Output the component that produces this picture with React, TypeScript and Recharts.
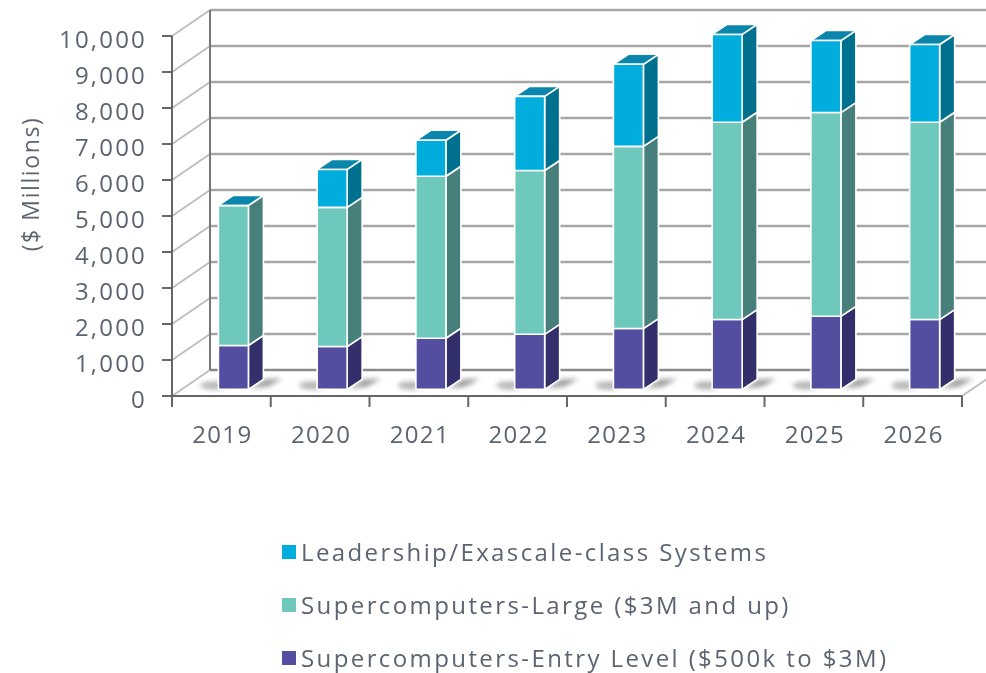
import { BarChart, Bar, XAxis, YAxis, CartesianGrid, Legend } from "recharts";

const years = ["2019", "2020", "2021", "2022", "2023", "2024", "2025", "2026"];
const entryLevel = [1220, 1190, 1420, 1530, 1690, 1940, 2030, 1940];
const large = [3890, 3865, 4500, 4550, 5060, 5480, 5660, 5480];
const leadership = [0, 1055, 1000, 2060, 2280, 2440, 2000, 2160];
const yTicks = [0, 1000, 2000, 3000, 4000, 5000, 6000, 7000, 8000, 9000, 10000];

const data = years.map((year, i) => ({
  year,
  entry: entryLevel[i],
  large: large[i],
  leadership: leadership[i],
}));

const FONT = "'Open Sans', sans-serif";
const TEXT = "#5b6470";

// depth of the fake 3D walls, and of the bars inside them
const WALL_DX = 38;
const WALL_DY = -26;
const BAR_SHIFT_X = 12.4;
const BAR_SHIFT_Y = -6.6;
const DEPTH_X = 15;
const DEPTH_Y = -10;
const BAND = 790 / years.length;

const face = (pts: number[][], fill: string) => (
  <polygon points={pts.map((p) => p.join(",")).join(" ")} fill={fill} stroke="#fff" strokeWidth={1.6} strokeLinejoin="round" />
);

function makeBox(front: string, side: string, top?: string, floor?: boolean) {
  return function Box(props: any) {
    const x = props.x + BAR_SHIFT_X;
    const y = props.y + BAR_SHIFT_Y;
    const w = props.width;
    const h = props.height;
    return (
      <g>
        {floor && (
          <g>
            <ellipse cx={x - 5} cy={y + h - 4} rx={13} ry={4} fill="#b4b4b4" filter="url(#floorShadow)" />
            <polygon
              points={`${x + w + 2},${y + h - 1} ${x + w + 16},${y + h - 10} ${x + w + 34},${y + h - 11} ${x + w + 20},${y + h - 3}`}
              fill="#9c9c9c"
              filter="url(#floorShadow)"
            />
          </g>
        )}
        {face([[x + w, y], [x + w + DEPTH_X, y + DEPTH_Y], [x + w + DEPTH_X, y + h + DEPTH_Y], [x + w, y + h]], side)}
        {top && face([[x, y], [x + DEPTH_X, y + DEPTH_Y], [x + w + DEPTH_X, y + DEPTH_Y], [x + w, y]], top)}
        {face([[x, y], [x + w, y], [x + w, y + h], [x, y + h]], front)}
      </g>
    );
  };
}

function WallLine(props: any) {
  const { x1, y1, x2, y2 } = props;
  const isFloor = y1 > 390;
  return (
    <g>
      <line x1={x1} y1={y1} x2={x1 + WALL_DX} y2={y1 + WALL_DY} stroke="#bdbdbd" strokeWidth={1.8} />
      <line x1={x1 + WALL_DX} y1={y1 + WALL_DY} x2={x2 + WALL_DX} y2={y2 + WALL_DY} stroke={isFloor ? "#8a8a8a" : "#a6a6a6"} strokeWidth={2.4} />
      {!isFloor && <line x1={x1 + WALL_DX} y1={y1 + WALL_DY} x2={x1 + WALL_DX} y2={y1 + WALL_DY + 36} stroke="#777" strokeWidth={2} />}
      {isFloor && <line x1={x2} y1={y2} x2={x2 + WALL_DX} y2={y2 + WALL_DY} stroke="#bdbdbd" strokeWidth={1.8} />}
    </g>
  );
}

function XTick(props: any) {
  const { x, y, index, payload } = props;
  const left = x - BAND / 2;
  const last = index === years.length - 1;
  return (
    <g>
      <line x1={left} y1={y} x2={left} y2={y + 11} stroke="#666" strokeWidth={2} />
      {last && <line x1={left + BAND} y1={y} x2={left + BAND} y2={y + 11} stroke="#666" strokeWidth={2} />}
      <text x={x + 1} y={y + 47} textAnchor="middle" fontFamily={FONT} fontSize={24} letterSpacing={1.4} fill={TEXT}>
        {payload.value}
      </text>
    </g>
  );
}

function YTick(props: any) {
  const { x, y, payload } = props;
  return (
    <g>
      <line x1={x} y1={y} x2={x - 10} y2={y} stroke="#666" strokeWidth={2} />
      <text x={x - 25} y={y + 12} textAnchor="end" fontFamily={FONT} fontSize={24} letterSpacing={2.2} fill={TEXT}>
        {Number(payload.value).toLocaleString("en-US")}
      </text>
    </g>
  );
}

function LegendRows({ payload }: any) {
  const rows = [...(payload ?? [])].reverse();
  return (
    <div>
      {rows.map((row: any) => (
        <div key={row.value} style={{ display: "flex", alignItems: "center", height: 53, fontFamily: FONT, fontSize: 24, letterSpacing: 2.4, color: TEXT, whiteSpace: "nowrap" }}>
          <span style={{ width: 14, height: 14, background: row.color, marginRight: 5 }} />
          {row.value}
        </div>
      ))}
    </div>
  );
}

export default function App() {
  return (
    <div style={{ position: "absolute", left: 0, top: 0, width: 986, height: 673, overflow: "hidden", filter: "blur(0.5px)" }}>
      <BarChart width={986} height={673} data={data} barSize={30} margin={{ top: 36, right: 24, bottom: 0, left: 0 }}>
        <defs>
          <filter id="floorShadow" x="-40%" y="-100%" width="180%" height="300%">
            <feGaussianBlur stdDeviation="2.8" />
          </filter>
        </defs>
        <CartesianGrid vertical={false} horizontal={WallLine} />
        <XAxis dataKey="year" height={277} interval={0} tickLine={false} tickSize={0} tickMargin={0} axisLine={{ stroke: "#666", strokeWidth: 2 }} tick={XTick} />
        <YAxis width={172} domain={[0, 10000]} ticks={yTicks} interval={0} tickLine={false} tickSize={0} tickMargin={0} axisLine={{ stroke: "#666", strokeWidth: 2 }} tick={YTick}
          label={{ value: "($ Millions)", angle: -90, position: "insideLeft", dx: 26, dy: -32, style: { fontFamily: FONT, fontSize: 23, letterSpacing: 1.6, fill: TEXT, textAnchor: "middle" } }} />
        <Legend layout="horizontal" verticalAlign="middle" align="center" itemSorter={null} wrapperStyle={{ top: 525, left: 282, width: 680 }} content={LegendRows} />
        <Bar dataKey="entry" name="Supercomputers-Entry Level ($500k to $3M)" stackId="a" fill="#534EA0" isAnimationActive={false} shape={makeBox("#534EA0", "#322F6A", undefined, true)} />
        <Bar dataKey="large" name="Supercomputers-Large ($3M and up)" stackId="a" fill="#6EC8BC" isAnimationActive={false} shape={makeBox("#6EC8BC", "#47807A")} />
        <Bar dataKey="leadership" name="Leadership/Exascale-class Systems" stackId="a" fill="#00ADDC" isAnimationActive={false} shape={makeBox("#00ADDC", "#00708F", "#0A86AC")} />
      </BarChart>
    </div>
  );
}
